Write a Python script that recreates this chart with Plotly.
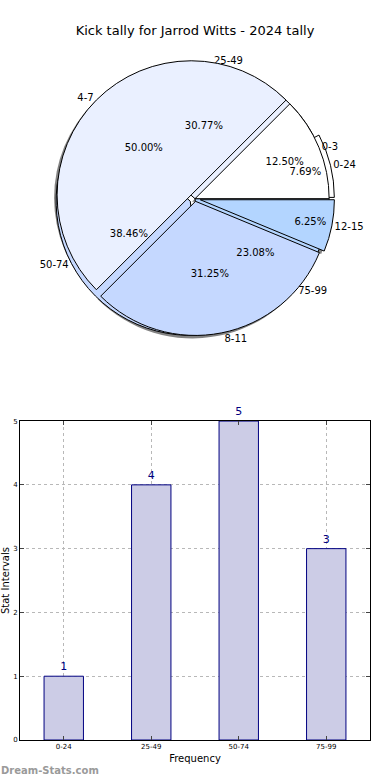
import plotly.graph_objects as go

# ---- data ----
title_text = "Kick tally for Jarrod Witts - 2024 tally"
small_labels = ["0-3", "4-7", "8-11", "12-15"]
small_counts = [2, 8, 5, 1]
range_labels = ["0-24", "25-49", "50-74", "75-99"]
range_counts = [1, 4, 5, 3]

slice_colors = ["#ffffff", "#eaf0ff", "#c5d8ff", "#b3d5ff"]
pull_small = [0, 0.04, 0.02, 0.04]
pull_range = [0.04, 0, 0.04, 0]

FONT = "DejaVu Sans"
pie_domain = dict(x=[0, 1], y=[0.543, 0.920])
shadow_domain = dict(x=[0, 1 - 6 / 350], y=[0.543 - 3 / 740, 0.920 - 3 / 740])


def start_rotation(vals):
    # plotly counterclockwise pies end the first slice at `rotation`;
    # shift so the first slice starts at 3 o'clock like matplotlib
    return 90 - 360.0 * vals[0] / sum(vals)


fig = go.Figure()

base = dict(sort=False, direction="counterclockwise", automargin=False,
            hoverinfo="skip", showlegend=False)

# shadow
fig.add_trace(go.Pie(labels=small_labels, values=small_counts, pull=pull_small,
                     rotation=start_rotation(small_counts), domain=shadow_domain,
                     marker=dict(colors=["rgba(90,90,90,0.75)"] * 4, line=dict(width=0)),
                     textinfo="none", **base))
# back pie (ranges), outside labels
fig.add_trace(go.Pie(labels=range_labels, values=range_counts, pull=pull_range,
                     rotation=start_rotation(range_counts), domain=pie_domain,
                     marker=dict(colors=slice_colors, line=dict(color="black", width=1)),
                     textinfo="label", textposition="outside",
                     outsidetextfont=dict(family=FONT, size=10, color="black"),
                     **base))
# front pie (small intervals), outside labels
fig.add_trace(go.Pie(labels=small_labels, values=small_counts, pull=pull_small,
                     rotation=start_rotation(small_counts), domain=pie_domain,
                     marker=dict(colors=slice_colors, line=dict(color="black", width=1)),
                     textinfo="label", textposition="outside",
                     outsidetextfont=dict(family=FONT, size=10, color="black"),
                     **base))
# percent text overlays (transparent)
clear = ["rgba(0,0,0,0)"] * 4
for lbls, vals, pl in [(small_labels, small_counts, pull_small), (range_labels, range_counts, pull_range)]:
    fig.add_trace(go.Pie(labels=lbls, values=vals, pull=pl,
                         rotation=start_rotation(vals), domain=pie_domain,
                         marker=dict(colors=clear, line=dict(width=0)),
                         textinfo="percent", texttemplate="%{percent:.2%}",
                         textposition="inside", insidetextorientation="horizontal",
                         insidetextfont=dict(family=FONT, size=10, color="black"),
                         **base))

# bar chart
fig.add_trace(go.Bar(x=range_labels, y=range_counts, width=0.45,
                     marker=dict(color="#ccccE6", line=dict(color="#000080", width=1)),
                     text=[str(v) for v in range_counts], textposition="outside",
                     textfont=dict(family=FONT, size=11, color="#000080"),
                     cliponaxis=False, showlegend=False, hoverinfo="skip"))

fig.update_layout(
    width=390, height=780,
    margin=dict(l=20, r=20, t=0, b=40, autoexpand=False),
    paper_bgcolor="white", plot_bgcolor="white",
    font=dict(family=FONT, color="black"),
    title=dict(text=title_text, x=0.5, xanchor="center", y=1 - 30 / 780, yanchor="middle",
               yref="container", font=dict(family=FONT, size=13, color="black")),
    xaxis=dict(domain=[0, 1], range=[-0.5, 3.5], type="category", automargin=False,
               showline=True, linecolor="black", mirror="ticks", ticks="inside", ticklen=4,
               tickfont=dict(size=7), showgrid=True, gridcolor="#b8b8b8", griddash="dot",
               title=dict(text="Frequency", font=dict(size=10), standoff=4)),
    yaxis=dict(domain=[0, 0.431], range=[0, 5], dtick=1, automargin=False,
               showline=True, linecolor="black", mirror="ticks", ticks="inside", ticklen=4,
               tickfont=dict(size=7), showgrid=True, gridcolor="#b8b8b8", griddash="dot",
               zeroline=False,
               title=dict(text="Stat Intervals", font=dict(size=10), standoff=4)),
    annotations=[dict(text="<b>Dream-Stats.com</b>", xref="paper", yref="paper",
                      x=-21 / 350, y=-30 / 740, xanchor="left", yanchor="middle",
                      showarrow=False, font=dict(family=FONT, size=10, color="#9a9a9a"))],
)

fig.write_html("out.html", config={"displayModeBar": False},
               post_script="document.body.style.margin='0';")
